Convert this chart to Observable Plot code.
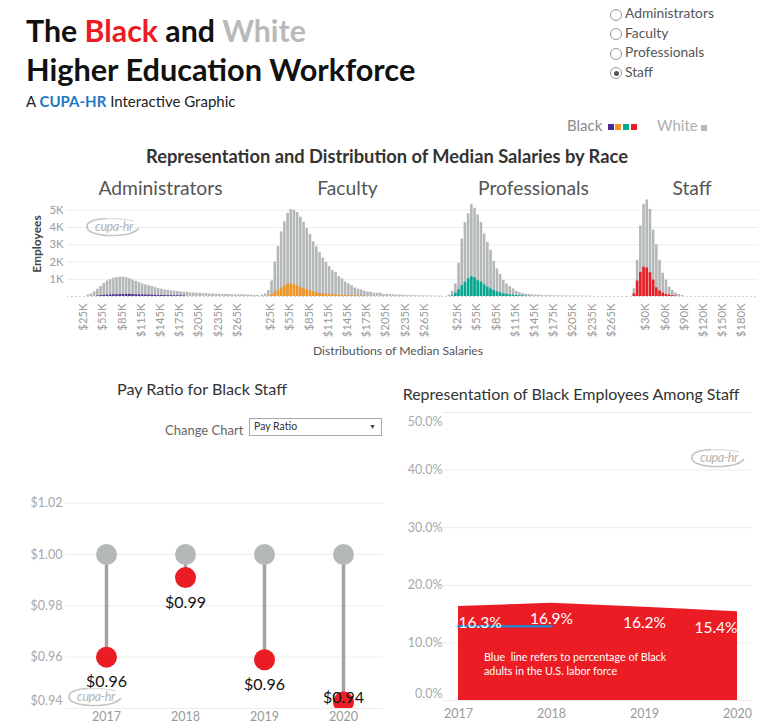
<!DOCTYPE html>
<html>
<head>
<meta charset="utf-8">
<script src="https://cdn.jsdelivr.net/npm/d3@7"></script>
<script src="https://cdn.jsdelivr.net/npm/@observablehq/plot@0.6"></script>
<style>
  body { margin: 0; background: #fff; font-family: Lato, "Noto Sans", sans-serif; }
  #page { position: relative; width: 761px; height: 728px; overflow: hidden; background: #fff; }
  .abs { position: absolute; white-space: nowrap; }
  .abs svg { display: block; }
</style>
</head>
<body>
<div id="page"></div>
<script>
// ---- Salary distributions (employees, in thousands) per $5K median-salary bin ----
const groups = ["Administrators", "Faculty", "Professionals", "Staff"];
const binWidthK = 5;

const adminBinStart = 30;
const adminWhite = [0.08,0.15,0.27,0.42,0.58,0.75,0.9,0.98,1.06,1.1,1.12,1.13,1.1,1.04,0.96,0.88,0.81,0.73,0.67,0.63,0.58,0.52,0.46,0.42,0.38,0.37,0.33,0.31,0.29,0.27,0.25,0.25,0.21,0.21,0.19,0.19,0.17,0.17,0.15,0.15,0.13,0.13,0.12,0.12,0.12,0.1,0.1,0.1,0.1,0.1,0.08,0.08,0.06,0.06];
const adminBlack = [0,0,0,0.03,0.05,0.07,0.08,0.09,0.1,0.1,0.11,0.11,0.12,0.12,0.11,0.1,0.1,0.09,0.08,0.08,0.07,0.07,0.06,0.06,0.05,0.05,0.05,0.04,0.04,0.04,0.03];

const facultyBinStart = 10;
const facultyWhite = [0.08,0.15,0.35,0.9,2.0,2.9,3.75,4.33,4.83,5.04,5.0,4.87,4.6,4.3,3.94,3.6,3.17,2.88,2.56,2.23,1.98,1.73,1.5,1.4,1.15,1.02,0.83,0.73,0.63,0.5,0.42,0.38,0.31,0.25,0.25,0.19,0.19,0.19,0.12,0.12,0.12,0.1,0.08,0.08,0.06,0.06,0.05,0.05,0.04,0.04,0.04,0.03,0.03,0.03,0.02,0.02,0.02];
const facultyBlack = [0,0,0.02,0.1,0.25,0.35,0.48,0.62,0.71,0.73,0.69,0.62,0.52,0.44,0.38,0.33,0.27,0.21,0.17,0.15,0.13,0.12,0.1,0.08,0.07,0.06,0.05,0.05,0.04,0.04,0.03,0.03,0.02];

const profBinStart = 10;
const profWhite = [0.08,0.3,0.73,1.92,3.33,4.29,4.8,5.35,5.12,4.73,4.29,3.62,3.13,2.69,2.04,1.6,1.27,0.92,0.73,0.58,0.44,0.31,0.23,0.17,0.13,0.12,0.1,0.08,0.08,0.06,0.05,0.05,0.04,0.04,0.04,0.03,0.03,0.03,0.03,0.02,0.02,0.02,0.02,0.02,0.02];
const profBlack = [0,0.04,0.19,0.38,0.63,0.83,1.02,1.15,1.08,0.92,0.83,0.67,0.54,0.44,0.35,0.27,0.21,0.15,0.12,0.1,0.08,0.06,0.04,0.04,0.02,0.02];

const staffBinStart = 10;
const staffWhite = [0.45,2.1,4.1,5.35,5.6,5.05,3.85,3.0,2.1,1.35,0.95,0.55,0.35,0.2,0.12,0.06];
const staffBlack = [0.15,0.9,1.4,1.7,1.65,1.38,0.95,0.5,0.32,0.2,0.12,0.08,0.05,0.03];

const salaryTicks = [25,55,85,115,145,175,205,235,265];
const staffSalaryTicks = [30,60,90,120,150,180];
const employeeTicks = [1,2,3,4,5];

// ---- Pay ratio for Black staff (dollars per $1.00 earned by White staff) ----
const years = [2017, 2018, 2019, 2020];
const payRatioBlack = [0.960, 0.991, 0.959, 0.9425];
const payRatioWhite = [1.00, 1.00, 1.00, 1.00];
const payTicks = [0.94, 0.96, 0.98, 1.00, 1.02];

// ---- Representation of Black employees among staff (%) ----
const blackStaffPct = [16.3, 16.9, 16.2, 15.4];
const laborForceYears = [2017, 2018];
const laborForcePct = [12.9, 12.9];
const pctTicks = [0, 10, 20, 30, 40, 50];

// ---- Colours ----
const WHITE_GRAY = "#b5b8b9";
const RED = "#ec1c24";
const groupColors = {Administrators: "#4b2e91", Faculty: "#f7941d", Professionals: "#00a98f", Staff: RED};
const GRID = "#ececec";
const FONT = "Lato, 'Noto Sans', sans-serif";

const page = document.getElementById("page");

function place(node, left, top) {
  const wrap = document.createElement("div");
  wrap.className = "abs";
  wrap.style.left = left + "px";
  wrap.style.top = top + "px";
  wrap.appendChild(node);
  page.appendChild(wrap);
  return wrap;
}

// text positioned by its baseline
function txt(html, x, baseline, size, opts = {}) {
  const d = document.createElement("div");
  d.className = "abs";
  d.innerHTML = html;
  d.style.fontSize = size + "px";
  d.style.lineHeight = (size * 1.2) + "px";
  d.style.top = (baseline - 0.987 * size) + "px";
  d.style.left = x + "px";
  d.style.color = opts.color || "#333";
  if (opts.weight) d.style.fontWeight = opts.weight;
  if (opts.anchor === "middle") d.style.transform = "translateX(-50%)";
  if (opts.anchor === "end") d.style.transform = "translateX(-100%)";
  page.appendChild(d);
  return d;
}

// ---- Header ----
txt(`The <span style="color:${RED}">Black</span> and <span style="color:#b9b9b9">White</span>`, 26, 42, 30.3, {weight: 700, color: "#111"});
txt(`Higher Education Workforce`, 26, 82, 30.7, {weight: 700, color: "#111"});
txt(`A <b style="color:#1e78c2">CUPA-HR</b> Interactive Graphic`, 26, 107, 15, {color: "#222"});

// Group selector
groups.forEach((g, i) => {
  const cy = 14 + i * 19.5;
  const c = document.createElement("div");
  c.className = "abs";
  c.style.cssText += `left:${610}px;top:${cy - 5.5}px;width:10px;height:10px;border:1px solid #9a9a9a;border-radius:50%;background:#fff;`;
  if (g === "Staff") {
    const dot = document.createElement("div");
    dot.style.cssText = "position:absolute;left:2.5px;top:2.5px;width:5px;height:5px;border-radius:50%;background:#555;";
    c.appendChild(dot);
  }
  page.appendChild(c);
  txt(g, 625, cy + 5, 13.8, {color: "#555"});
});

// Colour key
txt("Black", 567, 131, 15, {color: "#8a8a8a"});
groups.forEach((g, i) => {
  const s = document.createElement("div");
  s.className = "abs";
  s.style.cssText += `left:${607.5 + i * 7.7}px;top:124px;width:6.3px;height:6.3px;background:${groupColors[g]};`;
  page.appendChild(s);
});
txt("White", 657, 131, 15, {color: "#b0b0b0"});
{
  const s = document.createElement("div");
  s.className = "abs";
  s.style.cssText += `left:701px;top:125px;width:5.5px;height:5.5px;background:${WHITE_GRAY};`;
  page.appendChild(s);
}

// Watermark
function logo(cx, cy) {
  const ns = "http://www.w3.org/2000/svg";
  const svg = document.createElementNS(ns, "svg");
  svg.setAttribute("width", 58); svg.setAttribute("height", 24);
  svg.innerHTML = `
    <path d="M22,3.5 C8,4 2,8 3,12.5 C4,18 16,21 32,20.5 C44,20 52,17 55,13" fill="none" stroke="#c4c4c4" stroke-width="1.6"/>
    <path d="M8,6.5 C16,3 36,2.5 50,6" fill="none" stroke="#d4d4d4" stroke-width="1"/>
    <text x="30" y="16" text-anchor="middle" font-family="${FONT}" font-style="italic" font-size="12.5" fill="#b4b4b4" letter-spacing="-0.4">cupa-hr</text>`;
  place(svg, cx - 29, cy - 12);
}

// ---- Histograms ----
txt("Representation and Distribution of Median Salaries by Race", 387, 164.5, 18.3, {weight: 700, anchor: "middle", color: "#333"});

const PX_PER_K = 0.64;
const HIST_TOP = 190;

function histogram({name, start, white, black, ticks, left, width, withAxis}) {
  const bins = white.map((v, i) => ({
    x1: start + i * binWidthK,
    x2: start + (i + 1) * binWidthK,
    white: v,
    black: black[i] ?? 0
  }));
  const marginLeft = withAxis ? 67 : 0;
  const chart = Plot.plot({
    width: marginLeft + width,
    height: 151,
    marginLeft,
    marginRight: 0,
    marginTop: 6,
    marginBottom: 45,
    style: {fontFamily: FONT, fontSize: "11.3px", color: "#9a9a9a", background: "transparent", overflow: "visible"},
    x: {domain: [0, width / PX_PER_K], ticks, tickFormat: d => `$${d}K`, tickRotate: -90, tickSize: 0, tickPadding: 7, label: null},
    y: withAxis
      ? {domain: [0, 5.8], ticks: employeeTicks, tickFormat: d => `${d}K`, tickSize: 0, tickPadding: 4, label: null}
      : {domain: [0, 5.8], axis: null},
    marks: [
      Plot.ruleY(employeeTicks, {stroke: GRID, strokeWidth: 1}),
      Plot.ruleY([0], {stroke: "#c8c8c8", strokeDasharray: "1.5,2.5"}),
      Plot.rectY(bins, {x1: "x1", x2: "x2", y: "white", fill: WHITE_GRAY, insetLeft: 0.25, insetRight: 0.35}),
      Plot.rectY(bins.filter(d => d.black > 0), {x1: "x1", x2: "x2", y: "black", fill: groupColors[name], insetLeft: 0.25, insetRight: 0.35})
    ]
  });
  place(chart, left - marginLeft, HIST_TOP);
  txt(name, left + width / 2, 195, 19.3, {anchor: "middle", color: "#555"});
}

histogram({name: "Administrators", start: adminBinStart, white: adminWhite, black: adminBlack, ticks: salaryTicks, left: 67, width: 187, withAxis: true});
histogram({name: "Faculty", start: facultyBinStart, white: facultyWhite, black: facultyBlack, ticks: salaryTicks, left: 254, width: 187});
histogram({name: "Professionals", start: profBinStart, white: profWhite, black: profBlack, ticks: salaryTicks, left: 441, width: 185});
histogram({name: "Staff", start: staffBinStart, white: staffWhite, black: staffBlack, ticks: staffSalaryTicks, left: 626, width: 132});

{
  const e = txt("Employees", 37, 245, 12, {color: "#444", weight: 700});
  e.style.top = "244px";
  e.style.left = "37px";
  e.style.transform = "translate(-50%, -50%) rotate(-90deg)";
}
txt("Distributions of Median Salaries", 398, 356, 12.2, {anchor: "middle", color: "#555"});
logo(113, 227);

// ---- Pay ratio ----
txt("Pay Ratio for Black Staff", 202, 395, 16.2, {anchor: "middle", color: "#333"});
txt("Change Chart", 165, 436, 13, {color: "#666"});
{
  const box = document.createElement("div");
  box.className = "abs";
  box.style.cssText += "left:249px;top:418px;width:131px;height:16px;border:1px solid #a8a8a8;background:#fff;";
  box.innerHTML = `<span style="position:absolute;left:4px;top:1px;font-size:10.5px;color:#333;">Pay Ratio</span><span style="position:absolute;right:5px;top:3px;font-size:7px;color:#444;">&#9660;</span>`;
  page.appendChild(box);
}

const payData = years.map((year, i) => ({year, black: payRatioBlack[i], white: payRatioWhite[i]}));
const PAY_BOTTOM = 0.94;
const payChart = Plot.plot({
  width: 390,
  height: 238,
  marginLeft: 65,
  marginRight: 7,
  marginTop: 5,
  marginBottom: 20,
  style: {fontFamily: FONT, fontSize: "12.5px", color: "#9a9a9a", background: "transparent", overflow: "visible"},
  x: {type: "point", domain: years, padding: 0.5, tickFormat: d => `${d}`, tickSize: 0, tickPadding: 4, label: null},
  y: {domain: [PAY_BOTTOM, 1.023], axis: null},
  marks: [
    Plot.ruleY(payTicks, {stroke: GRID}),
    Plot.text(payTicks, {
      y: d => Math.max(d, PAY_BOTTOM + 0.0031),
      text: d => `$${d.toFixed(2)}`,
      frameAnchor: "left", textAnchor: "end", dx: -3, fill: "#a8a8a8", fontSize: 12.5
    }),
    Plot.ruleX(payData, {x: "year", y1: "black", y2: "white", stroke: "#a3a3a3", strokeWidth: 3.5}),
    Plot.dot(payData, {x: "year", y: "white", r: 10.5, fill: WHITE_GRAY}),
    Plot.dot(payData, {x: "year", y: "black", r: 10.5, fill: RED, clip: true}),
    Plot.text(payData, {
      x: "year",
      y: d => Math.max(d.black - 0.0097, PAY_BOTTOM + 0.0043),
      text: d => `$${d.black.toFixed(2)}`,
      fill: "#111", fontSize: 16
    })
  ]
});
place(payChart, 0, 490);
logo(95, 697);

// ---- Representation ----
txt("Representation of Black Employees Among Staff", 571, 400, 16, {anchor: "middle", color: "#333"});

const repData = years.map((year, i) => ({year, pct: blackStaffPct[i]}));
const laborData = laborForceYears.map((year, i) => ({year, pct: laborForcePct[i]}));
const pctLabel = d => `${d.pct.toFixed(1)}%`;
const repText = {x: "year", y: "pct", text: pctLabel, dy: 16, fill: "#fff", fontSize: 15.5};
const repChart = Plot.plot({
  width: 371,
  height: 326,
  marginLeft: 53,
  marginRight: 9,
  marginTop: 10,
  marginBottom: 28,
  style: {fontFamily: FONT, fontSize: "12.5px", color: "#9a9a9a", background: "transparent", overflow: "visible"},
  x: {type: "point", domain: years, padding: 0.15, tickFormat: d => `${d}`, tickSize: 0, tickPadding: 9, label: null},
  y: {domain: [0, 50], axis: null},
  marks: [
    Plot.ruleY(pctTicks, {stroke: GRID}),
    Plot.text(pctTicks, {
      y: d => Math.min(Math.max(d, 1.2), 48.4),
      text: d => `${d.toFixed(1)}%`,
      frameAnchor: "left", textAnchor: "end", dx: -1, fill: "#a8a8a8", fontSize: 12.5
    }),
    Plot.areaY(repData, {x: "year", y: "pct", fill: RED}),
    Plot.lineY(laborData, {x: "year", y: "pct", stroke: "#2a86c9", strokeWidth: 2.5}),
    Plot.text(repData.slice(0, 1), {...repText, textAnchor: "start"}),
    Plot.text(repData.slice(1, -1), {...repText, textAnchor: "middle"}),
    Plot.text(repData.slice(-1), {...repText, textAnchor: "end"})
  ]
});
place(repChart, 390, 402);
txt("Blue&nbsp; line refers to percentage of Black", 484, 662, 10.8, {color: "#fff"});
txt("adults in the U.S. labor force", 484, 676, 10.8, {color: "#fff"});
logo(718, 458);
</script>
</body>
</html>
